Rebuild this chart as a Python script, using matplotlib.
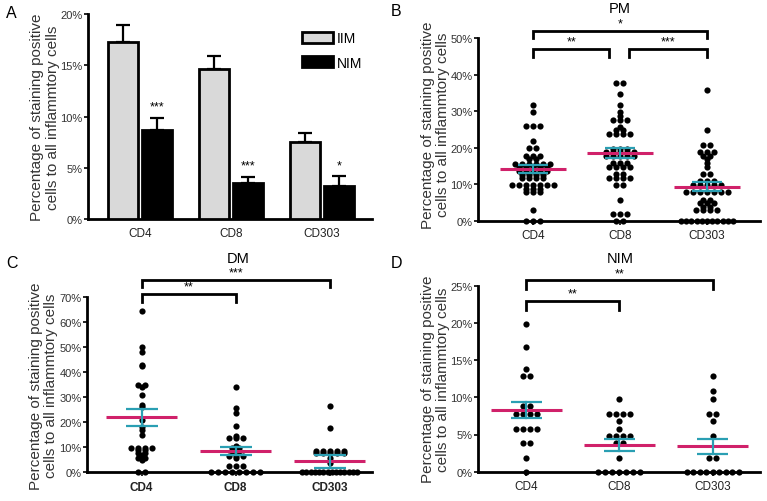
import matplotlib
matplotlib.use('Agg')
import matplotlib.pyplot as plt
import numpy as np
from matplotlib.patches import Patch

plt.rcParams['font.family'] = ['Liberation Sans', 'DejaVu Sans']

markers = ['CD4', 'CD8', 'CD303']

# panel A: mean and SEM (%) for IIM and NIM
iim_mean = [17.3, 14.6, 7.5]
iim_err = [1.6, 1.3, 0.9]
nim_bar_mean = [8.7, 3.5, 3.25]
nim_bar_err = [1.2, 0.6, 0.9]
a_stars = ['***', '***', '*']

# panel B: PM, individual cases (%)
pm_cd4 = [31.8, 29.8, 25.9, 25.9, 25.9, 21.8, 19.8, 19.8, 17.8, 17.8, 17.8,
          16.8, 16.8, 15.6, 15.6, 15.6, 15.6, 15.6, 15.6, 14.6, 14.6, 14.6,
          14.6, 14.6, 13.6, 13.6, 13.6, 13.6, 13.6, 12.6, 12.6, 12.6, 12.6,
          11.6, 11.6, 11.6, 11.6, 9.8, 9.8, 9.8, 9.8, 9.8, 9.8, 9.8,
          8.8, 8.8, 8.8, 7.8, 7.8, 7.8, 2.8, 0, 0, 0]
pm_cd8 = [37.8, 37.8, 34.8, 31.8, 29.8, 28.8, 27.7, 27.7, 27.7, 25.8, 24.8,
          24.8, 23.8, 23.8, 23.8, 23.8, 19.6, 19.6, 19.6, 18.7, 18.7, 18.7,
          18.7, 18.7, 17.7, 17.7, 17.7, 17.7, 17.7, 15.7, 15.7, 15.7,
          14.7, 14.7, 14.7, 14.7, 12.8, 12.8, 11.8, 11.8, 11.8, 11.8,
          9.8, 9.8, 5.8, 1.8, 1.8, 1.8, 0, 0]
pm_cd303 = [35.8, 24.8, 20.8, 20.8, 18.8, 18.8, 18.8, 17.8, 17.8, 16.8, 15.8,
            14.8, 12.8, 12.8, 10.8, 10.8, 10.8, 9.8, 9.8, 9.8, 9.8, 9.8,
            7.8, 7.8, 7.8, 7.8, 7.8, 7.8, 7.8, 5.8, 5.8, 4.8, 4.8, 4.8,
            3.8, 3.8, 2.8, 2.8, 2.8, 2.8, 0, 0, 0, 0, 0, 0, 0, 0, 0, 0, 0]
pm_mean = [14.2, 18.6, 9.3]
pm_sem = [1.1, 1.35, 1.25]

# panel C: DM
dm_cd4 = [64.5, 50, 48, 43, 42.5, 35, 35, 34, 31, 27, 26, 21, 18, 17, 15,
          9.8, 9.8, 9.8, 9.8, 8.8, 8.8, 7.8, 7.0, 7.8, 5.8, 5.8, 4.8, 0, 0]
dm_cd8 = [34, 25.8, 23.7, 18.7, 14.6, 13.6, 13.6, 13.6, 10.6, 9.6, 9.6,
          8.6, 8.6, 6.6, 6.6, 6.6, 5.6, 2.6, 2.6, 2.6, 0, 0, 0, 0, 0, 0, 0, 0]
dm_cd303 = [26.6, 17.6, 8.6, 8.6, 8.6, 8.6, 8.6, 7.6, 7.6, 7.6, 7.6, 7.6,
            5.6, 4.6, 3.6, 0, 0, 0, 0, 0, 0, 0, 0, 0, 0, 0, 0, 0, 0]
dm_mean = [22.0, 8.4, 4.4]
dm_sem = [3.3, 1.6, 2.5]

# panel D: NIM
nim_cd4 = [19.8, 16.8, 13.8, 12.8, 12.8, 8.8, 8.8, 7.8, 7.8, 7.8, 7.8,
           5.8, 5.8, 5.8, 5.8, 3.8, 3.8, 1.8, 0]
nim_cd8 = [9.8, 7.8, 7.8, 7.8, 7.8, 6.8, 5.8, 4.8, 4.8, 4.8, 4.8, 3.8, 3.8,
           1.8, 0, 0, 0, 0, 0, 0, 0]
nim_cd303 = [12.8, 10.8, 9.8, 7.8, 7.8, 6.8, 4.8, 1.8, 1.8,
             0, 0, 0, 0, 0, 0, 0, 0, 0]
nim_mean = [8.3, 3.6, 3.4]
nim_sem = [1.1, 0.8, 1.0]

ylabel = 'Percentage of staining positive\ncells to all inflammtory cells'
W, H = 767, 502
fig = plt.figure(figsize=(W / 100, H / 100), dpi=100)


def make_axes(left, right, top, bottom):
    # pixel box -> figure fraction
    return fig.add_axes([left / W, 1 - bottom / H, (right - left) / W, (bottom - top) / H])


def style_axes(ax, ymax, step, xlim, bold=False):
    for s in ['top', 'right']:
        ax.spines[s].set_visible(False)
    for s in ['left', 'bottom']:
        ax.spines[s].set_linewidth(2.0)
    ax.set_ylim(0, ymax)
    ax.set_xlim(*xlim)
    ticks = np.arange(0, ymax + step / 2, step)
    ax.set_yticks(ticks)
    ax.set_yticklabels(['%d%%' % t for t in ticks], fontsize=8, color='#333333')
    ax.set_xticks([0, 1, 2])
    ax.set_xticklabels(markers, fontsize=8.5, color='#222222',
                       fontweight='bold' if bold else 'normal')
    ax.tick_params(axis='y', length=3, width=1.2, pad=1)
    ax.tick_params(axis='x', length=3, width=1.2, pad=3)
    ax.set_ylabel(ylabel, fontsize=11, color='#333333', linespacing=1.1)


def dot_panel(ax, groups, means, sems, step_px, max_px):
    x0, x1 = ax.get_xlim()
    px_per_unit = ax.get_position().width * W / (x1 - x0)
    for i, vals in enumerate(groups):
        vals = np.array(vals)
        for v in np.unique(vals):
            n = np.sum(vals == v)
            dx = step_px / px_per_unit
            if n > 1 and (n - 1) * step_px > max_px:
                dx = max_px / (n - 1) / px_per_unit
            offs = (np.arange(n) - (n - 1) / 2) * dx
            ax.scatter(i + offs, np.full(n, v), s=20, color='black',
                       zorder=5, clip_on=False, linewidths=0)
        ax.plot([i - 0.38, i + 0.38], [means[i], means[i]], color='#d0216a',
                lw=2.2, zorder=6, solid_capstyle='butt')
        ax.plot([i - 0.17, i + 0.17], [means[i] + sems[i]] * 2, color='#2a9fb3',
                lw=1.6, zorder=7, solid_capstyle='butt')
        ax.plot([i - 0.17, i + 0.17], [means[i] - sems[i]] * 2, color='#2a9fb3',
                lw=1.6, zorder=7, solid_capstyle='butt')
        ax.plot([i, i], [means[i] - sems[i], means[i] + sems[i]], color='#2a9fb3',
                lw=1.6, zorder=7)


def bracket(ax, xa, xb, y, drop, label):
    ax.plot([xa, xa, xb, xb], [y - drop, y, y, y - drop], color='black',
            lw=2.0, clip_on=False, solid_joinstyle='miter')
    ax.annotate(label, ((xa + xb) / 2, y), xytext=(0, 1), textcoords='offset points',
                ha='center', va='bottom', fontsize=9, annotation_clip=False)


# ---- A: bars
axA = make_axes(88, 372, 15, 220)
style_axes(axA, 20, 5, (-0.57, 2.55))
axA.tick_params(axis='x', length=0, pad=6)
x = np.arange(3)
bw = 0.33
axA.bar(x - 0.19, iim_mean, bw, color='#d9d9d9', edgecolor='black', linewidth=2.0,
        zorder=3, label='IIM')
axA.bar(x + 0.19, nim_bar_mean, bw, color='black', edgecolor='black', linewidth=2.0,
        zorder=3, label='NIM')
axA.errorbar(x - 0.19, iim_mean, yerr=[np.zeros(3), iim_err], fmt='none',
             ecolor='black', elinewidth=1.6, capsize=5, capthick=1.6, zorder=2)
axA.errorbar(x + 0.19, nim_bar_mean, yerr=[np.zeros(3), nim_bar_err], fmt='none',
             ecolor='black', elinewidth=1.6, capsize=5, capthick=1.6, zorder=2)
for i in range(3):
    axA.text(x[i] + 0.19, nim_bar_mean[i] + nim_bar_err[i] + 0.5, a_stars[i],
             ha='center', va='bottom', fontsize=9)
handles = [Patch(facecolor='#d9d9d9', edgecolor='black', linewidth=2.0),
           Patch(facecolor='black', edgecolor='black', linewidth=2.0)]
axA.legend(handles, ['IIM', 'NIM'], loc='upper left', bbox_to_anchor=(0.73, 0.95),
           frameon=False, fontsize=10, handlelength=2.2, handleheight=0.8,
           handletextpad=0.3, labelspacing=0.75, borderpad=0)
axA.yaxis.set_label_coords(-0.1, 0.5)

# ---- B: PM
axB = make_axes(478, 760, 39.3, 221.7)
style_axes(axB, 50, 10, (-0.63, 2.61))
dot_panel(axB, [pm_cd4, pm_cd8, pm_cd303], pm_mean, pm_sem, 7.0, 52)
bracket(axB, 0, 2, 52, 2.0, '*')
bracket(axB, 0, 0.88, 47, 2.0, '**')
bracket(axB, 1.1, 2, 47, 2.0, '***')
axB.yaxis.set_label_coords(-0.1, 0.53)
fig.text(620 / W, 1 - 9 / H, 'PM', ha='center', va='center', fontsize=10.5)

# ---- C: DM
axC = make_axes(87, 372, 298.3, 473.3)
style_axes(axC, 70, 10, (-0.58, 2.45), bold=True)
dot_panel(axC, [dm_cd4, dm_cd8, dm_cd303], dm_mean, dm_sem, 7.0, 55)
bracket(axC, 0, 2, 77, 3.0, '***')
bracket(axC, 0, 1, 71.3, 3.0, '**')
axC.yaxis.set_label_coords(-0.1, 0.5)
fig.text(238 / W, 1 - 259 / H, 'DM', ha='center', va='center', fontsize=10.5)

# ---- D: NIM
axD = make_axes(478, 760, 286.7, 472.7)
style_axes(axD, 25, 5, (-0.52, 2.51))
dot_panel(axD, [nim_cd4, nim_cd8, nim_cd303], nim_mean, nim_sem, 7.0, 52)
bracket(axD, 0, 2, 25.7, 1.1, '**')
bracket(axD, 0, 1, 22.9, 1.1, '**')
axD.yaxis.set_label_coords(-0.1, 0.5)
fig.text(620 / W, 1 - 259 / H, 'NIM', ha='center', va='center', fontsize=10.5)

# panel letters
for lab, px, py in [('A', 6, 13), ('B', 391, 12), ('C', 6, 263), ('D', 391, 263)]:
    fig.text(px / W, 1 - py / H, lab, ha='left', va='center', fontsize=11.5)

fig.savefig('out.png', dpi=100)
